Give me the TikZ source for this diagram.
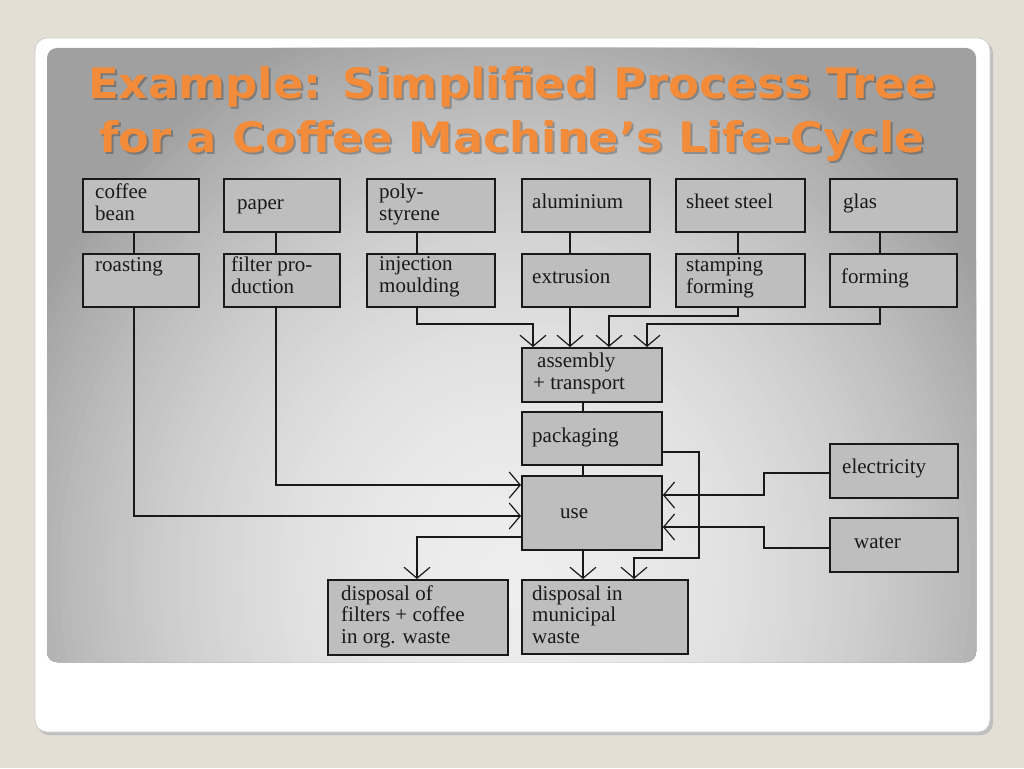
\documentclass[tikz,border=0pt]{standalone}
\usepackage{fontspec}
\setmainfont{Liberation Serif}
\newfontfamily\titlefont{DejaVu Sans}
\usetikzlibrary{arrows.meta}
\definecolor{bgbeige}{RGB}{228,223,213}
\definecolor{boxfill}{RGB}{190,190,190}
\definecolor{titleorange}{RGB}{242,140,58}
\definecolor{pin}{RGB}{237,237,237}
\definecolor{pout}{RGB}{160,160,160}
\begin{document}
\begin{tikzpicture}[x=1pt,y=-1pt,
  box/.style={draw=black!90, fill=boxfill, line width=1.8pt, inner sep=0pt, anchor=north west},
  txt/.style={font=\fontsize{21}{21.5}\selectfont, inner sep=0pt, align=left, anchor=base west, text=black!90},
  conn/.style={line width=1.6pt, draw=black!90},
  arr/.style={conn, -{Straight Barb[length=11pt,width=26pt,line width=1.2pt]}},
  ttl/.style={font=\titlefont\bfseries\fontsize{42}{42}\selectfont, inner sep=0pt, anchor=base}]
\useasboundingbox (0,0) rectangle (1024,768);
\fill[bgbeige] (0,0) rectangle (1024,768);
% card
\fill[black!25, rounded corners=12pt] (37,41) rectangle (993,735);
\filldraw[fill=white, draw=black!20, line width=0.8pt, rounded corners=12pt] (35,38) rectangle (990,732);
% panel
\fill[pout, rounded corners=10pt] (47,48) rectangle (976,662);
\begin{scope}
  \clip[rounded corners=10pt] (47,48) rectangle (976,662);
  \foreach \i in {0,...,59}{
    \pgfmathsetmacro{\rr}{1.05*(1-\i/60)}
    \pgfmathsetmacro{\pp}{100*(1-(1-\i/60)^2)}
    \fill[pin!\pp!pout] (515,575) ellipse [x radius={520*\rr}, y radius={560*\rr}];
  }
\end{scope}
% title
\node[ttl, text=black, opacity=0.25] (t1s) at (514,100) {\scalebox{1.075}[1]{Example: Simplified Process Tree}};
\node[ttl, text=black, opacity=0.25] (t2s) at (514,154) {\scalebox{1.065}[1]{for a Coffee Machine’s Life-Cycle}};
\node[ttl, text=titleorange] (t1) at (512,98) {\scalebox{1.075}[1]{Example: Simplified Process Tree}};
\node[ttl, text=titleorange] (t2) at (512,152) {\scalebox{1.065}[1]{for a Coffee Machine’s Life-Cycle}};
% boxes
\node[box, minimum width=116, minimum height=53] (cb) at (82,178) {};
\node[box, minimum width=116, minimum height=53] (pa) at (223,178) {};
\node[box, minimum width=128, minimum height=53] (ps) at (366,178) {};
\node[box, minimum width=128, minimum height=53] (al) at (521,178) {};
\node[box, minimum width=129, minimum height=53] (ss) at (675,178) {};
\node[box, minimum width=127, minimum height=53] (gl) at (829,178) {};
\node[box, minimum width=116, minimum height=53] (ro) at (82,253) {};
\node[box, minimum width=116, minimum height=53] (fp) at (223,253) {};
\node[box, minimum width=128, minimum height=53] (im) at (366,253) {};
\node[box, minimum width=128, minimum height=53] (ex) at (521,253) {};
\node[box, minimum width=129, minimum height=53] (sf) at (675,253) {};
\node[box, minimum width=127, minimum height=53] (fo) at (829,253) {};
\node[box, minimum width=140, minimum height=54] (as) at (521,347) {};
\node[box, minimum width=140, minimum height=53] (pk) at (521,411) {};
\node[box, minimum width=140, minimum height=74] (us) at (521,475) {};
\node[box, minimum width=180, minimum height=75] (do) at (327,579) {};
\node[box, minimum width=166, minimum height=74] (dm) at (521,579) {};
\node[box, minimum width=128, minimum height=54] (el) at (829,443) {};
\node[box, minimum width=128, minimum height=54] (wa) at (829,517) {};
% texts (base = baseline of last line)
\node[txt] (tcb) at (95,220) {coffee\\bean};
\node[txt] (tpa) at (237,209) {paper};
\node[txt] (tps) at (379,220) {poly-\\styrene};
\node[txt] (tal) at (532,208) {aluminium};
\node[txt] (tss) at (686,208) {sheet steel};
\node[txt] (tgl) at (843,208) {glas};
\node[txt] (tro) at (95,271) {roasting};
\node[txt] (tfp) at (231,293) {filter pro-\\duction};
\node[txt] (tim) at (379,292) {injection\\moulding};
\node[txt] (tex) at (532,283) {extrusion};
\node[txt] (tsf) at (686,293) {stamping\\forming};
\node[txt] (tfo) at (841,283) {forming};
\node[txt] (tas) at (533,389) {\hspace{4pt}assembly\\+ transport};
\node[txt] (tpk) at (532,442) {packaging};
\node[txt] (tus) at (560,518) {use};
\node[txt] (tdo) at (341,643) {disposal of\\filters + coffee\\in org. waste};
\node[txt] (tdm) at (532,643) {disposal in\\municipal\\waste};
\node[txt] (tel) at (842,473) {electricity};
\node[txt] (twa) at (854,548) {water};
% helper coordinates
\coordinate (v1) at (134,0);
\coordinate (v2) at (276,0);
\coordinate (v3) at (417,0);
\coordinate (v4) at (570,0);
\coordinate (v5) at (738,0);
\coordinate (v6) at (880,0);
\coordinate (v7) at (583,0);
\coordinate (a1) at (533,324);
\coordinate (a3) at (609,316);
\coordinate (a4) at (647,324);
\coordinate (k1) at (699,452);
\coordinate (k2) at (699,558);
\coordinate (k3) at (634,558);
\coordinate (u1) at (417,537);
\coordinate (f1) at (0,485);
\coordinate (r1) at (0,516);
\coordinate (e1) at (764,473);
\coordinate (e2) at (764,495);
\coordinate (w1) at (764,548);
\coordinate (w2) at (764,527);
% vertical links
\draw[conn] (cb.south -| v1) -- (ro.north -| v1);
\draw[conn] (pa.south -| v2) -- (fp.north -| v2);
\draw[conn] (ps.south -| v3) -- (im.north -| v3);
\draw[conn] (al.south -| v4) -- (ex.north -| v4);
\draw[conn] (ss.south -| v5) -- (sf.north -| v5);
\draw[conn] (gl.south -| v6) -- (fo.north -| v6);
% to assembly
\draw[arr] (im.south -| v3) |- (a1) -- (as.north -| a1);
\draw[arr] (ex.south -| v4) -- (as.north -| v4);
\draw[arr] (sf.south -| v5) |- (a3) -- (as.north -| a3);
\draw[arr] (fo.south -| v6) |- (a4) -- (as.north -| a4);
\draw[conn] (as.south -| v7) -- (pk.north -| v7);
\draw[conn] (pk.south -| v7) -- (us.north -| v7);
% packaging to municipal waste
\draw[arr] (pk.east |- k1) -- (k1) -- (k2) -- (k3) -- (dm.north -| k3);
% use outputs
\draw[arr] (us.south -| v7) -- (dm.north -| v7);
\draw[arr] (us.west |- u1) -| (do.north -| u1);
% inputs to use
\draw[arr] (fp.south -| v2) |- (us.west |- f1);
\draw[arr] (ro.south -| v1) |- (us.west |- r1);
\draw[arr] (el.west |- e1) -- (e1) -- (e2) -- (us.east |- e2);
\draw[arr] (wa.west |- w1) -- (w1) -- (w2) -- (us.east |- w2);
\end{tikzpicture}
\end{document}
